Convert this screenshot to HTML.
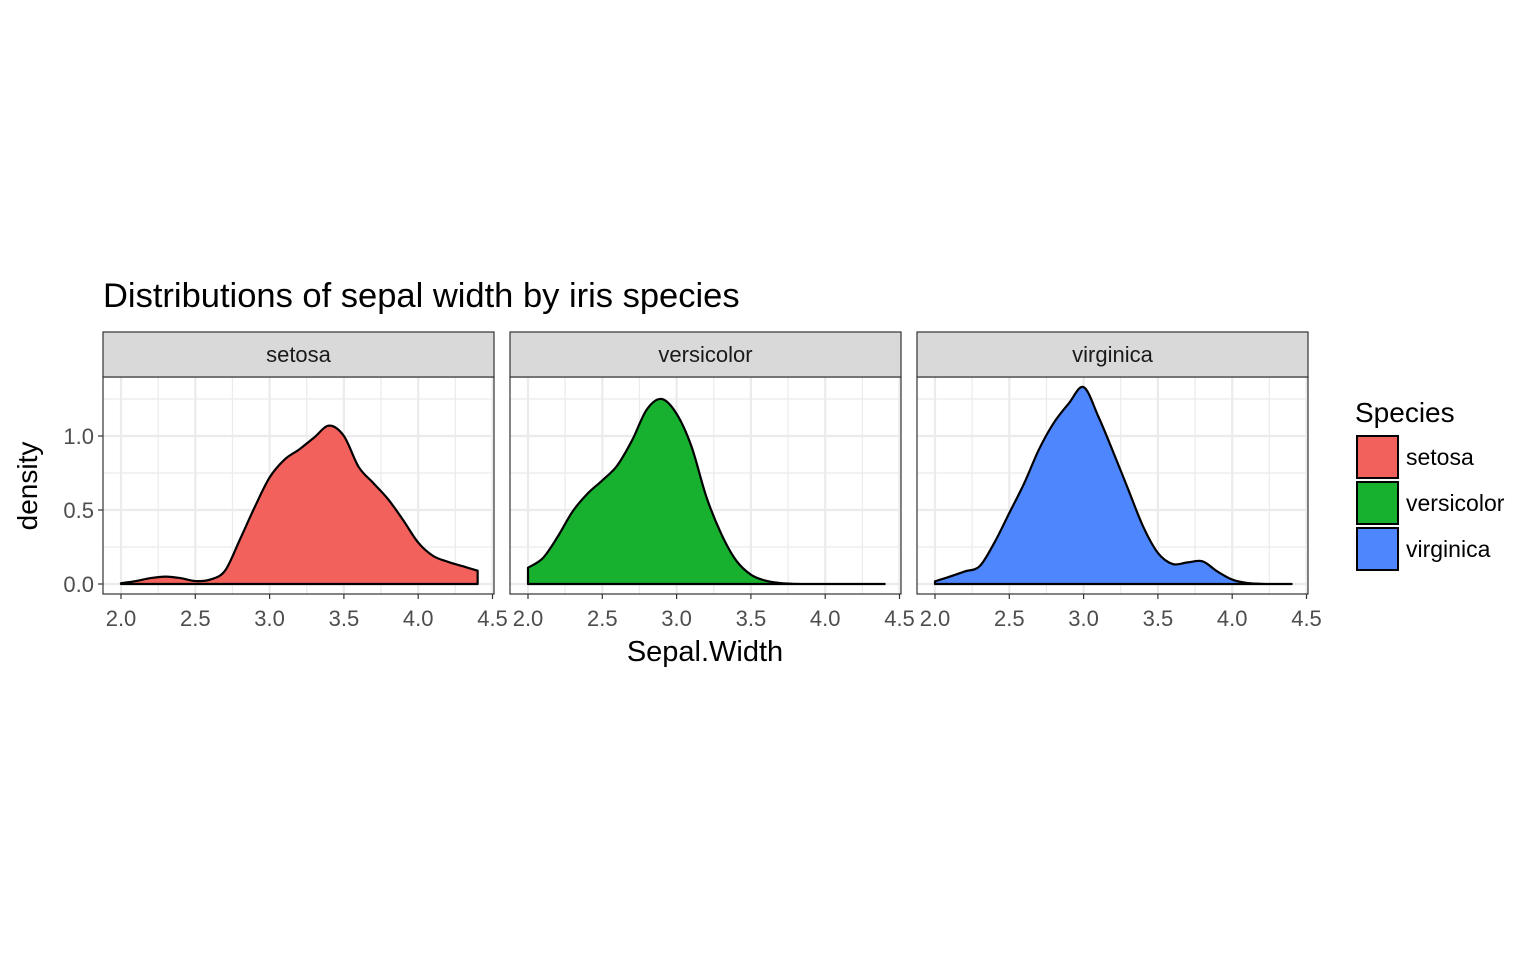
<!DOCTYPE html>
<html><head><meta charset="utf-8"><style>
body{margin:0;background:#fff;}
svg text{font-family:"Liberation Sans",Arial,sans-serif;}
</style></head><body>
<svg id="chart" width="1536" height="949" xmlns="http://www.w3.org/2000/svg">
<rect width="1536" height="949" fill="#fff"/>
<text x="103" y="307" font-size="34.5" fill="#000">Distributions of sepal width by iris species</text>
<text x="705" y="661" font-size="29" text-anchor="middle" fill="#000">Sepal.Width</text>
<text transform="translate(37,486) rotate(-90)" font-size="28" text-anchor="middle" fill="#000">density</text>
<g id="panels"></g>
<g id="legend"></g>
</svg>
<script>
const species = ["setosa","versicolor","virginica"];
const fills = ["#F2615B","#18B02F","#4D86FD"];
const xs = [2.0,2.1,2.2,2.3,2.4,2.5,2.6,2.7,2.8,2.9,3.0,3.1,3.2,3.3,3.4,3.5,3.6,3.7,3.8,3.9,4.0,4.1,4.2,4.3,4.4];
const setosaY = [0.005,0.02,0.04,0.05,0.04,0.02,0.03,0.09,0.30,0.52,0.72,0.84,0.91,0.99,1.07,1.0,0.79,0.68,0.57,0.43,0.28,0.19,0.15,0.12,0.09];
const versicolorY = [0.11,0.175,0.32,0.49,0.61,0.70,0.80,0.97,1.18,1.25,1.15,0.93,0.59,0.34,0.16,0.063,0.022,0.006,0.001,0,0,0,0,0,0];
const virginicaY = [0.018,0.05,0.085,0.12,0.28,0.48,0.68,0.91,1.09,1.22,1.33,1.13,0.89,0.64,0.39,0.21,0.135,0.146,0.153,0.085,0.03,0.007,0.001,0,0];
const seriesY = [setosaY, versicolorY, virginicaY];
const xTicks = [2.0,2.5,3.0,3.5,4.0,4.5];
const xTickLabels = ["2.0","2.5","3.0","3.5","4.0","4.5"];
const yTicks = [0,0.5,1.0];
const yTickLabels = ["0.0","0.5","1.0"];

const NS="http://www.w3.org/2000/svg";
function mk(tag,attrs,parent){const e=document.createElementNS(NS,tag);for(const k in attrs)e.setAttribute(k,attrs[k]);parent.appendChild(e);return e;}
const P0=103,PW=391,GAP=16,TOP=377,BOT=594,STRIP=332;
const xUnit=148.6;
function yS(v){return 584-v*148;}
const panels=document.getElementById('panels');
species.forEach((sp,i)=>{
  const left=P0+i*(PW+GAP);
  const xS=v=>left+18+(v-2)*xUnit;
  const g=mk('g',{},panels);
  
  
  mk('rect',{x:left,y:TOP,width:PW,height:BOT-TOP,fill:'#fff'},g);
  for(let v=2.25;v<4.6;v+=0.5){mk('line',{x1:xS(v),x2:xS(v),y1:TOP,y2:BOT,stroke:'#ebebeb','stroke-width':1.2},g);}
  [0.25,0.75,1.25].forEach(v=>mk('line',{x1:left,x2:left+PW,y1:yS(v),y2:yS(v),stroke:'#ebebeb','stroke-width':1.2},g));
  xTicks.forEach(v=>mk('line',{x1:xS(v),x2:xS(v),y1:TOP,y2:BOT,stroke:'#ebebeb','stroke-width':2.2},g));
  yTicks.forEach(v=>mk('line',{x1:left,x2:left+PW,y1:yS(v),y2:yS(v),stroke:'#ebebeb','stroke-width':2.2},g));
  const ys=seriesY[i];
  const pts=xs.map((x,k)=>[xS(x),yS(ys[k])]);
  let d=`M${xS(xs[0])},${yS(0)} L${pts[0][0]},${pts[0][1]}`;
  for(let k=0;k<pts.length-1;k++){
    const p0=pts[Math.max(0,k-1)],p1=pts[k],p2=pts[k+1],p3=pts[Math.min(pts.length-1,k+2)];
    const c1=[p1[0]+(p2[0]-p0[0])/6,p1[1]+(p2[1]-p0[1])/6];
    const c2=[p2[0]-(p3[0]-p1[0])/6,p2[1]-(p3[1]-p1[1])/6];
    d+=` C${c1[0]},${Math.min(c1[1],yS(0))} ${c2[0]},${Math.min(c2[1],yS(0))} ${p2[0]},${p2[1]}`;
  }
  d+=` L${xS(xs[xs.length-1])},${yS(0)} Z`;
  const area=mk('path',{d:d,fill:fills[i],stroke:'#000','stroke-width':2.2,'stroke-linejoin':'round'},g);
  
  
  mk('rect',{x:left,y:TOP,width:PW,height:BOT-TOP,fill:'none',stroke:'#333','stroke-width':1.2},g);
  const s=mk('rect',{x:left,y:STRIP,width:PW,height:TOP-STRIP,fill:'#d9d9d9',stroke:'#333','stroke-width':1.2},g);
  
  
  const st=mk('text',{x:left+PW/2,y:362,'font-size':22,'text-anchor':'middle',fill:'#1a1a1a'},g);
  st.textContent=sp;
  
  
  xTicks.forEach((v,k)=>{
    mk('line',{x1:xS(v),x2:xS(v),y1:BOT,y2:BOT+5,stroke:'#333','stroke-width':1.2},g);
    const t=mk('text',{x:xS(v),y:626,'font-size':22,'text-anchor':'middle',fill:'#4d4d4d'},g);
    t.textContent=xTickLabels[k];
    
    
  });
  if(i===0){
    yTicks.forEach((v,k)=>{
      mk('line',{x1:left-5,x2:left,y1:yS(v),y2:yS(v),stroke:'#333','stroke-width':1.2},g);
      const t=mk('text',{x:left-9,y:yS(v)+8,'font-size':22,'text-anchor':'end',fill:'#4d4d4d'},g);
      t.textContent=yTickLabels[k];
      
      
    });
  }
});
const lg=document.getElementById('legend');
const lt=mk('text',{x:1355,y:422,'font-size':28,fill:'#000'},lg);
lt.textContent='Species';


species.forEach((sp,i)=>{
  const y=436+i*46;
  const r=mk('rect',{x:1357,y:y,width:41,height:42,fill:fills[i],stroke:'#000','stroke-width':2},lg);
  
  
  const t=mk('text',{x:1406,y:y+29,'font-size':23,fill:'#000'},lg);
  t.textContent=sp;
  
  
});
</script>
</body></html>
